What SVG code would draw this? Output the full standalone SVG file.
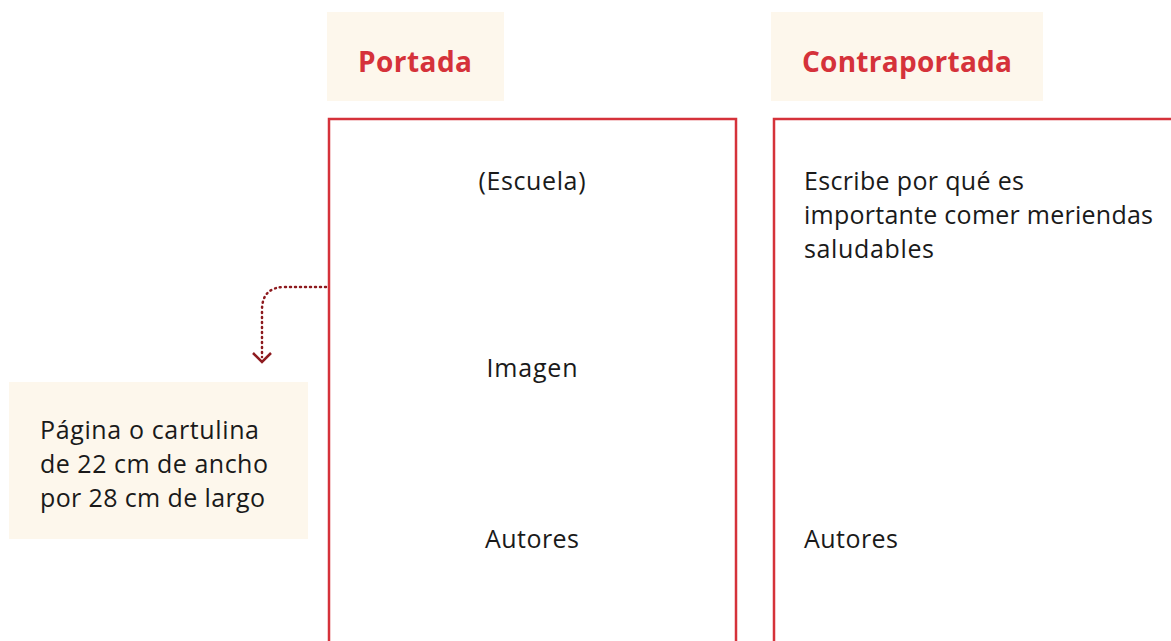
<svg xmlns="http://www.w3.org/2000/svg" width="1171" height="641" viewBox="0 0 1171 641">
<style>
.lab{fill:#fdf7ec}
.frame{fill:none;stroke:#d5323a;stroke-width:2.5}
.t{font-family:"Open Sans","Noto Sans",sans-serif;font-size:25px;fill:#1a1a1a}
.h{font-family:"Open Sans","Noto Sans",sans-serif;font-size:28px;font-weight:bold;fill:#d5323a}
.c{fill:none;stroke:#8e1b1f;stroke-width:2.5;stroke-dasharray:1 4;stroke-linecap:round}
.ah{fill:none;stroke:#8e1b1f;stroke-width:2.5}
</style>
<rect width="1171" height="641" fill="#fff"/>
<g id="portada-label"><rect class="lab" x="327" y="12" width="177" height="89"/><text class="h" x="415" y="72" text-anchor="middle" textLength="114">Portada</text></g>
<g id="contraportada-label"><rect class="lab" x="771" y="12" width="272" height="89"/><text class="h" x="907" y="72" text-anchor="middle" textLength="210">Contraportada</text></g>
<g id="portada"><rect class="frame" x="329" y="119" width="407" height="540"/>
<text class="t" x="532" y="190" text-anchor="middle" textLength="107">(Escuela)</text>
<text class="t" x="532" y="377" text-anchor="middle" textLength="91">Imagen</text>
<text class="t" x="532" y="548" text-anchor="middle" textLength="94">Autores</text></g>
<g id="contraportada"><rect class="frame" x="774" y="119" width="420" height="540"/>
<text class="t" x="804" y="190" textLength="220">Escribe por qué es</text>
<text class="t" x="804" y="224" textLength="349">importante comer meriendas</text>
<text class="t" x="804" y="258" textLength="130">saludables</text>
<text class="t" x="804" y="548" textLength="94">Autores</text></g>
<g id="nota"><rect class="lab" x="9" y="382" width="299" height="157"/>
<text class="t" x="40" y="439" textLength="219">Página o cartulina</text>
<text class="t" x="40" y="473" textLength="228">de 22 cm de ancho</text>
<text class="t" x="40" y="507" textLength="225">por 28 cm de largo</text></g>
<g id="connectors"><path class="c" d="M326 287 H285 Q262 287 262 310 V357"/><path class="ah" d="M253 353 L262 362 L271 353"/></g>
</svg>
